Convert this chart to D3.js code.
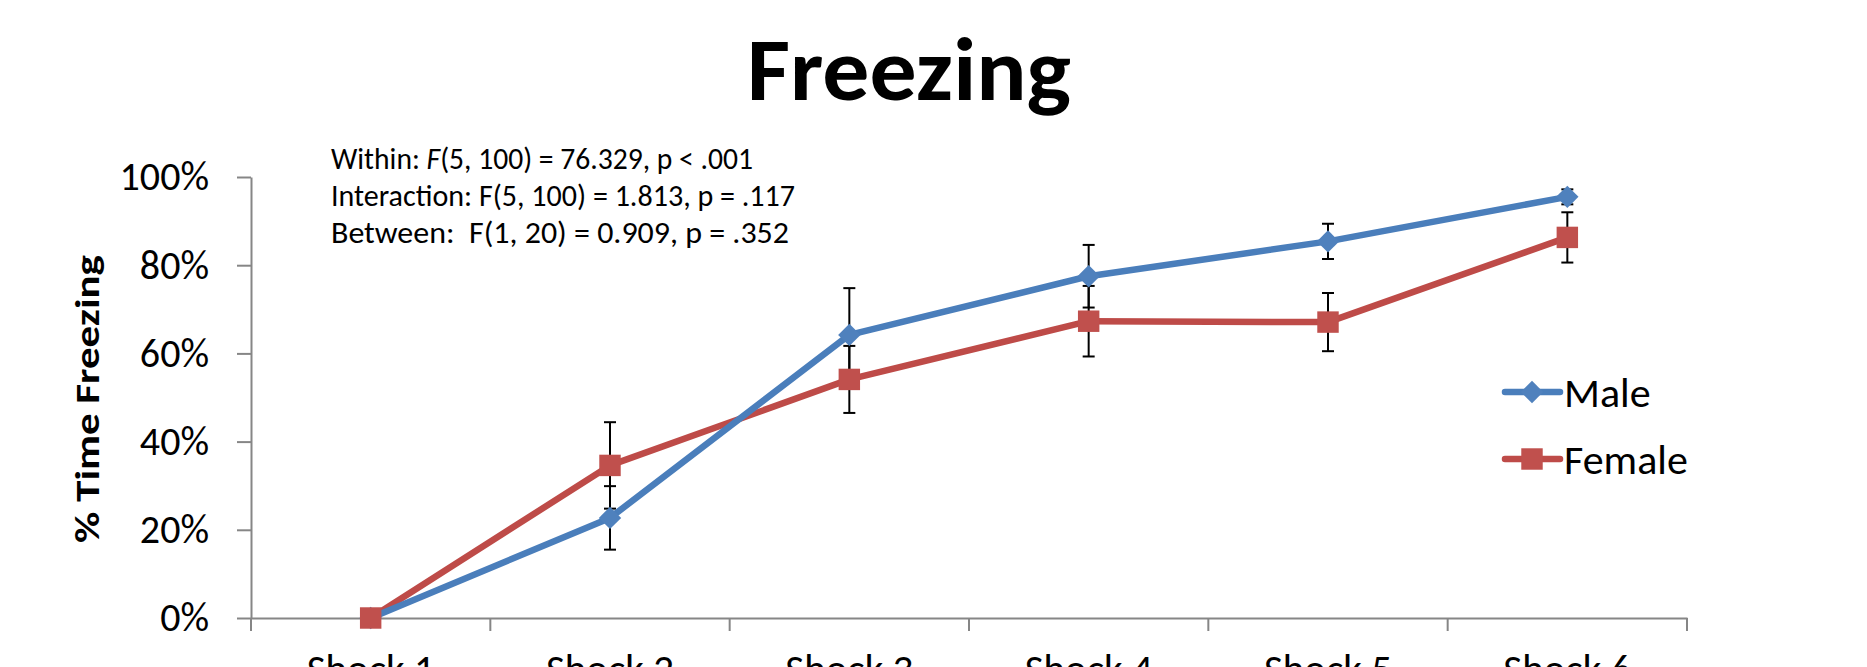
<!DOCTYPE html>
<html lang="en">
<head>
<meta charset="UTF-8">
<title>Freezing</title>
<script src="https://cdn.jsdelivr.net/npm/d3@7/dist/d3.min.js"></script>
<style>
  body { margin: 0; background: #fff; }
  svg { display: block; }
  text { font-family: Carlito, Lato, "Open Sans", sans-serif; fill: #000; white-space: pre; }
</style>
</head>
<body>
<div id="chart"></div>
<script>
// values
var shocks = ["Shock 1", "Shock 2", "Shock 3", "Shock 4", "Shock 5", "Shock 6"];
var maleMean = [0, 0.227, 0.642, 0.775, 0.854, 0.955];
var maleErr = [0, 0.072, 0.106, 0.071, 0.040, 0.017];
var femaleMean = [0, 0.346, 0.541, 0.673, 0.671, 0.863];
var femaleErr = [0, 0.098, 0.076, 0.080, 0.066, 0.057];
var yTicks = [0, 0.2, 0.4, 0.6, 0.8, 1];

// stats text, each line split in [text, italic] pieces
var statLines = [
  [["Within: ", false], ["F", true], ["(5, 100) = 76.329, p < .001", false]],
  [["Interaction: F(5, 100) = 1.813, p = .117", false]],
  [["Between:  F(1, 20) = 0.909, p = .352", false]]
];
var statWidths = [422, 464, 458];

var width = 1867, height = 667;
var margin = { left: 251, right: 180, top: 177, bottom: 49 };

var svg = d3.select("#chart").append("svg")
  .attr("width", width)
  .attr("height", height);

var x = d3.scaleBand()
  .domain(shocks)
  .range([margin.left, width - margin.right]);

var y = d3.scaleLinear()
  .domain([0, 1])
  .range([height - margin.bottom, margin.top]);

var cx = function(i) { return x(shocks[i]) + x.bandwidth() / 2; };
var axisColor = "#868686";

// title
svg.append("text")
  .attr("x", 909)
  .attr("y", 100)
  .attr("text-anchor", "middle")
  .attr("font-size", 90)
  .attr("font-weight", "bold")
  .attr("textLength", 324)
  .attr("lengthAdjust", "spacingAndGlyphs")
  .text("Freezing");

// y axis
var yAxis = svg.append("g")
  .attr("transform", "translate(" + margin.left + ",0)")
  .call(d3.axisLeft(y)
    .tickValues(yTicks)
    .tickFormat(d3.format(".0%"))
    .tickSize(14)
    .tickSizeOuter(0)
    .tickPadding(28));
yAxis.selectAll("text")
  .attr("font-size", 40)
  .attr("font-family", "Carlito, Lato, sans-serif");

// x axis (labels only, ticks drawn at the category borders)
var xAxis = svg.append("g")
  .attr("transform", "translate(0," + y(0) + ")")
  .call(d3.axisBottom(x).tickSize(0).tickSizeOuter(0).tickPadding(36));
xAxis.selectAll("text")
  .attr("font-size", 41)
  .attr("font-family", "Carlito, Lato, sans-serif");

d3.range(shocks.length + 1).forEach(function(i) {
  var bx = margin.left + i * x.step();
  xAxis.append("line")
    .attr("x1", bx).attr("x2", bx)
    .attr("y1", 0).attr("y2", 13)
    .attr("stroke", axisColor)
    .attr("stroke-width", 2);
});

svg.selectAll(".domain, .tick line")
  .attr("stroke", axisColor)
  .attr("stroke-width", 2);

// y axis title
svg.append("text")
  .attr("transform", "translate(99,399) rotate(-90)")
  .attr("text-anchor", "middle")
  .attr("font-family", "'DejaVu Sans', sans-serif")
  .attr("font-weight", "bold")
  .attr("font-size", 35)
  .attr("textLength", 288)
  .attr("lengthAdjust", "spacingAndGlyphs")
  .text("% Time Freezing");

// stats block
var stats = svg.append("g");
statLines.forEach(function(parts, i) {
  var t = stats.append("text")
    .attr("x", 331)
    .attr("y", 169 + i * 37)
    .attr("font-size", 30)
    .attr("textLength", statWidths[i])
    .attr("lengthAdjust", "spacingAndGlyphs");
  parts.forEach(function(p) {
    t.append("tspan")
      .attr("font-style", p[1] ? "italic" : "normal")
      .text(p[0]);
  });
});

// rotated square gives the Excel diamond
var series = [
  { name: "Male", mean: maleMean, err: maleErr, line: "#4A7EBB", fill: "#4F81BD", size: 250, rot: 45 },
  { name: "Female", mean: femaleMean, err: femaleErr, line: "#BE4B48", fill: "#C0504D", size: 460, rot: 0 }
];

// error bars
series.forEach(function(s) {
  var g = svg.append("g").attr("stroke", "#000").attr("stroke-width", 2);
  s.mean.forEach(function(m, i) {
    if (!s.err[i]) return;
    var top = y(m + s.err[i]), bot = y(m - s.err[i]), px = cx(i);
    g.append("line").attr("x1", px).attr("x2", px).attr("y1", top).attr("y2", bot);
    g.append("line").attr("x1", px - 6).attr("x2", px + 6).attr("y1", top).attr("y2", top);
    g.append("line").attr("x1", px - 6).attr("x2", px + 6).attr("y1", bot).attr("y2", bot);
  });
});

var line = d3.line()
  .x(function(d, i) { return cx(i); })
  .y(function(d) { return y(d); });

// lines: female below male
[series[1], series[0]].forEach(function(s) {
  svg.append("path")
    .datum(s.mean)
    .attr("d", line)
    .attr("fill", "none")
    .attr("stroke", s.line)
    .attr("stroke-width", 6.5)
    .attr("stroke-linejoin", "round");
});

// markers
series.forEach(function(s) {
  svg.append("g").selectAll("path")
    .data(s.mean)
    .enter()
    .append("path")
    .attr("transform", function(d, i) {
      return "translate(" + cx(i) + "," + y(d) + ") rotate(" + s.rot + ")";
    })
    .attr("d", d3.symbol().type(d3.symbolSquare).size(s.size))
    .attr("fill", s.fill);
});

// legend
var legend = svg.append("g");
series.forEach(function(s, i) {
  var ly = 392 + i * 67;
  legend.append("line")
    .attr("x1", 1505).attr("x2", 1560)
    .attr("y1", ly).attr("y2", ly)
    .attr("stroke", s.line)
    .attr("stroke-width", 6.5)
    .attr("stroke-linecap", "round");
  legend.append("path")
    .attr("transform", "translate(1532," + ly + ") rotate(" + s.rot + ")")
    .attr("d", d3.symbol().type(d3.symbolSquare).size(s.size))
    .attr("fill", s.fill);
  legend.append("text")
    .attr("x", 1564)
    .attr("y", ly + 15)
    .attr("font-size", 42)
    .text(s.name);
});
</script>
</body>
</html>
